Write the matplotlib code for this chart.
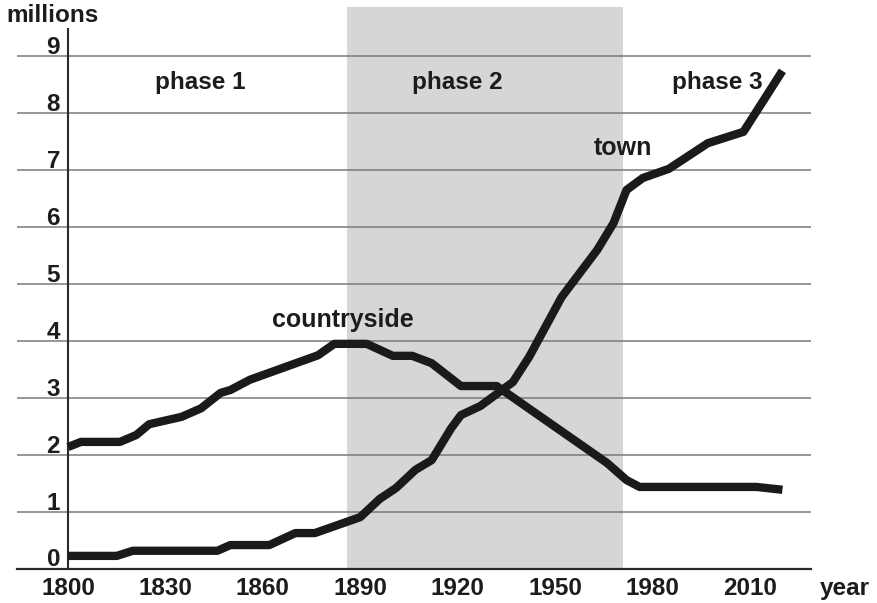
import matplotlib
matplotlib.use("Agg")
import matplotlib.pyplot as plt
from matplotlib.transforms import ScaledTranslation

# ---- data ----
town_years = [1800, 1815, 1820, 1846, 1850, 1862, 1870, 1876, 1890, 1896, 1901, 1907,
              1912, 1918, 1921, 1927, 1937, 1942, 1952, 1963, 1968, 1972, 1977, 1985,
              1997, 2008, 2020]
town_values = [0.23, 0.23, 0.32, 0.32, 0.42, 0.42, 0.63, 0.63, 0.91, 1.23, 1.42, 1.74,
               1.91, 2.47, 2.70, 2.86, 3.28, 3.72, 4.77, 5.60, 6.07, 6.65, 6.86, 7.02,
               7.47, 7.67, 8.74]

country_years = [1800, 1804, 1816, 1821, 1825, 1835, 1841, 1847, 1850, 1856, 1877, 1882,
                 1892, 1900, 1906, 1912, 1921, 1932, 1966, 1972, 1976, 2012, 2020]
country_values = [2.14, 2.23, 2.23, 2.35, 2.54, 2.67, 2.82, 3.09, 3.14, 3.32, 3.75, 3.95,
                  3.95, 3.74, 3.74, 3.61, 3.21, 3.21, 1.86, 1.56, 1.44, 1.44, 1.39]

x_ticks = [1800, 1830, 1860, 1890, 1920, 1950, 1980, 2010]
y_ticks = [0, 1, 2, 3, 4, 5, 6, 7, 8, 9]
phase2_span = (1886, 1971)

phase_labels = ["phase 1", "phase 2", "phase 3"]
phase_x = [1840.6, 1920, 1999.8]

plt.rcParams['font.family'] = ['Liberation Sans', 'DejaVu Sans']
plt.rcParams['font.weight'] = 'bold'
TXT = '#1c1c1c'
FS = 17.5

W, H = 877, 603
fig = plt.figure(figsize=(W / 100, H / 100), dpi=100)
ax = fig.add_axes([17 / W, 1 - 569 / H, (811 - 17) / W, (569 - 7) / H])

ax.set_xlim(1784.3, 2028.8)
ax.set_ylim(0, 9.86)

# shaded phase 2
ax.axvspan(*phase2_span, color='#d6d6d6', lw=0, zorder=0)

# gridlines
for v in y_ticks[1:]:
    ax.axhline(v, color='#7a7a7a', lw=1.1, zorder=1)

# y axis line
ax.plot([1800, 1800], [0, 9.5], color='#2a2a2a', lw=1.5, zorder=2, solid_capstyle='butt')

# lines
ax.plot(town_years, town_values, color='#1a1a1a', lw=6, zorder=3,
        solid_capstyle='butt', solid_joinstyle='round')
ax.plot(country_years, country_values, color='#1a1a1a', lw=6, zorder=3,
        solid_capstyle='butt', solid_joinstyle='round')

# spines
for s in ['top', 'right', 'left']:
    ax.spines[s].set_visible(False)
ax.spines['bottom'].set_color('#2a2a2a')
ax.spines['bottom'].set_linewidth(1.6)

ax.set_xticks(x_ticks)
ax.set_xticklabels([str(t) for t in x_ticks], fontsize=FS, color=TXT, fontweight='bold')
ax.tick_params(axis='x', length=0, pad=6)

ax.set_yticks(y_ticks)
ax.set_yticklabels([str(t) for t in y_ticks], fontsize=FS, color=TXT, fontweight='bold')
ax.tick_params(axis='y', length=0, pad=0)
off = ScaledTranslation(-8 / 100 + 51 / 100, 2.5 / 100, fig.dpi_scale_trans)
for lab in ax.get_yticklabels():
    lab.set_transform(lab.get_transform() + off)
    lab.set_verticalalignment('baseline')
    lab.set_horizontalalignment('right')

# phase labels
for lbl, px in zip(phase_labels, phase_x):
    ax.text(px, 8.53, lbl, ha='center', va='center', fontsize=FS, color=TXT, fontweight='bold')

ax.text(1970.9, 7.39, "town", ha='center', va='center', fontsize=FS + 0.5, color=TXT, fontweight='bold')
ax.text(1884.7, 4.37, "countryside", ha='center', va='center', fontsize=FS + 0.5, color=TXT, fontweight='bold')

fig.text(6 / W, 1 - 16 / H, "millions", ha='left', va='center', fontsize=FS, color=TXT, fontweight='bold')
fig.text(820 / W, 1 - 589 / H, "year", ha='left', va='center', fontsize=FS, color=TXT, fontweight='bold')

fig.savefig("out.png", dpi=100)
